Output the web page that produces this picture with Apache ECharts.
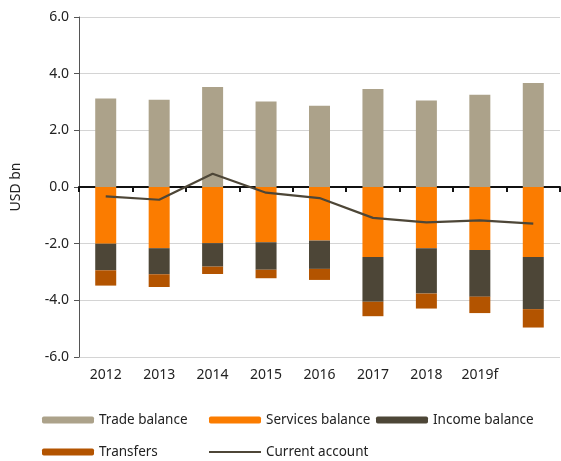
<!DOCTYPE html>
<html>
<head>
<meta charset="utf-8">
<script src="https://cdn.jsdelivr.net/npm/echarts@6/dist/echarts.min.js"></script>
<style>
  html, body { margin: 0; padding: 0; background: #fff; }
  #chart { width: 561px; height: 461px; }
</style>
</head>
<body>
<div id="chart"></div>
<script>
// values, USD bn
const years = ['2012', '2013', '2014', '2015', '2016', '2017', '2018', '2019f', ''];
const trade = [3.12, 3.08, 3.53, 3.02, 2.87, 3.46, 3.05, 3.26, 3.67];
const services = [-2.0, -2.16, -1.98, -1.95, -1.89, -2.47, -2.16, -2.22, -2.47];
const income = [-0.94, -0.92, -0.83, -0.97, -1.0, -1.58, -1.6, -1.65, -1.84];
const transfers = [-0.54, -0.45, -0.26, -0.30, -0.39, -0.51, -0.53, -0.58, -0.65];
const currentAccount = [-0.33, -0.45, 0.47, -0.2, -0.39, -1.09, -1.25, -1.18, -1.29];

const colors = {
  trade: '#aca28a',
  services: '#fb7c00',
  income: '#4d4637',
  transfers: '#b35400',
  line: '#4d4637'
};
const font = 'Noto Sans';
const textColor = '#222';

const chart = echarts.init(document.getElementById('chart'));

function legendAt(name, left, top, isLine) {
  return {
    data: [isLine ? { name: name, icon: 'rect' } : name],
    left: left,
    top: top,
    itemWidth: 52,
    itemHeight: isLine ? 2 : 7,
    itemGap: 0,
    selectedMode: false,
    textStyle: { fontFamily: font, fontSize: 13.5, color: textColor },
    padding: 0
  };
}

chart.setOption({
  animation: false,
  textStyle: { fontFamily: font },
  grid: { left: 79, right: 1, top: 17, bottom: 104 },
  legend: [
    legendAt('Trade balance', 42, 413),
    legendAt('Services balance', 209, 413),
    legendAt('Income balance', 376, 413),
    legendAt('Transfers', 42, 445),
    legendAt('Current account', 209, 445, true)
  ],
  xAxis: [
    {
      type: 'category',
      data: years,
      axisLine: { onZero: true, lineStyle: { color: '#111', width: 2 } },
      axisTick: { show: true, length: 5, lineStyle: { color: '#111', width: 2 } },
      axisLabel: { show: false }
    },
    {
      type: 'category',
      data: years,
      position: 'bottom',
      axisLine: { show: false, onZero: false },
      axisTick: { show: false },
      axisLabel: { fontFamily: font, fontSize: 14, color: textColor, margin: 11 }
    }
  ],
  yAxis: {
    type: 'value',
    min: -6,
    max: 6,
    interval: 2,
    name: 'USD bn',
    nameLocation: 'middle',
    nameGap: 56,
    nameTextStyle: { fontFamily: font, fontSize: 14, color: textColor },
    axisLine: { show: true, lineStyle: { color: '#555', width: 1 } },
    axisTick: { show: true, length: 5, lineStyle: { color: '#555' } },
    axisLabel: {
      fontFamily: font, fontSize: 14, color: textColor, margin: 10,
      formatter: v => v.toFixed(1)
    },
    splitLine: { lineStyle: { color: '#d4d4d4', width: 1 } }
  },
  series: [
    {
      name: 'Trade balance', type: 'bar', stack: 'pos', data: trade,
      barWidth: 21, itemStyle: { color: colors.trade }
    },
    {
      name: 'Services balance', type: 'bar', stack: 'neg', data: services,
      barWidth: 21, barGap: '-100%', itemStyle: { color: colors.services }
    },
    {
      name: 'Income balance', type: 'bar', stack: 'neg', data: income,
      barWidth: 21, itemStyle: { color: colors.income }
    },
    {
      name: 'Transfers', type: 'bar', stack: 'neg', data: transfers,
      barWidth: 21, itemStyle: { color: colors.transfers }
    },
    {
      name: 'Current account', type: 'line', data: currentAccount,
      symbol: 'none', z: 5,
      lineStyle: { color: colors.line, width: 2.2 },
      itemStyle: { color: colors.line }
    }
  ]
});
</script>
</body>
</html>
